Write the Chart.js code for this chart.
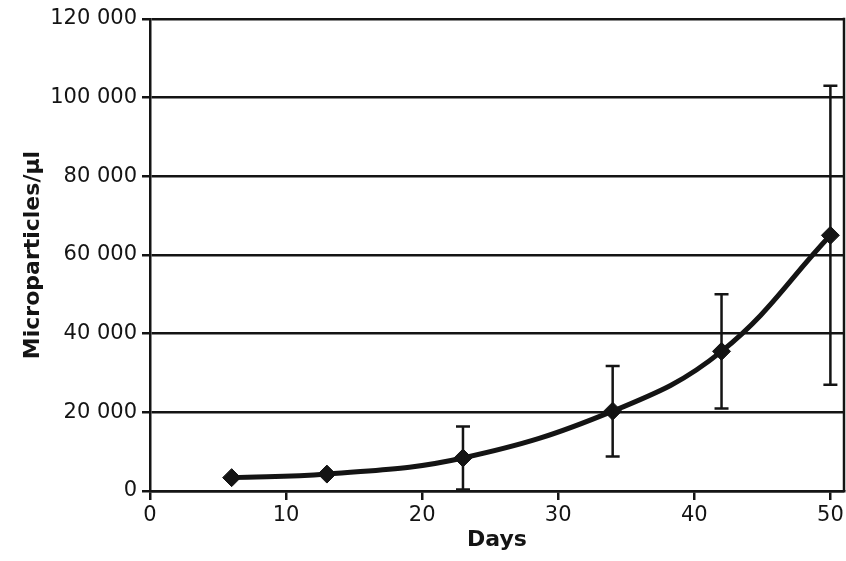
<!DOCTYPE html>
<html>
<head>
<meta charset="utf-8">
<script src="https://cdn.jsdelivr.net/npm/chart.js@4/dist/chart.umd.min.js"></script>
<style>
  html, body { margin: 0; padding: 0; background: #fff; overflow: hidden; }
  canvas { display: block; }
</style>
</head>
<body>
<canvas id="c" width="846" height="561"></canvas>
<script>
// Microparticle counts over storage time (mean ± SD)
const days = [6, 13, 23, 34, 42, 50];
const meanCount = [3400, 4300, 8400, 20300, 35500, 65000];
const sdCount = [0, 0, 8000, 11500, 14500, 38000];
const xTicks = [0, 10, 20, 30, 40, 50];
const yTicks = [0, 20000, 40000, 60000, 80000, 100000, 120000];

const INK = '#141414';

function spaced(v) {
  return String(v).replace(/\B(?=(\d{3})+(?!\d))/g, ' ');
}

// Vertical error bars with end caps, positioned via the chart scales
const errorBars = {
  id: 'errorBars',
  afterDatasetsDraw(chart) {
    const { ctx, scales: { x, y } } = chart;
    ctx.save();
    ctx.strokeStyle = INK;
    ctx.lineWidth = 2.5;
    ctx.lineCap = 'butt';
    days.forEach((d, i) => {
      const sd = sdCount[i];
      if (!sd) return;
      const px = x.getPixelForValue(d);
      const top = y.getPixelForValue(meanCount[i] + sd);
      const bot = y.getPixelForValue(Math.max(0, meanCount[i] - sd));
      const cap = 7;
      ctx.beginPath();
      ctx.moveTo(px, top); ctx.lineTo(px, bot);
      ctx.moveTo(px - cap, top); ctx.lineTo(px + cap, top);
      ctx.moveTo(px - cap, bot); ctx.lineTo(px + cap, bot);
      ctx.stroke();
    });
    ctx.restore();
  }
};

// Right-hand edge of the plot frame
const frame = {
  id: 'frame',
  beforeDatasetsDraw(chart) {
    const { ctx, chartArea: a } = chart;
    ctx.save();
    ctx.strokeStyle = INK;
    ctx.lineWidth = 2.5;
    ctx.beginPath();
    ctx.moveTo(a.right, a.top - 1.25);
    ctx.lineTo(a.right, a.bottom);
    ctx.stroke();
    ctx.restore();
  }
};

new Chart(document.getElementById('c'), {
  type: 'line',
  data: {
    datasets: [{
      data: days.map((d, i) => ({ x: d, y: meanCount[i] })),
      borderColor: INK,
      backgroundColor: INK,
      borderWidth: 5,
      tension: 0.4,
      pointStyle: 'rectRot',
      pointRadius: 9,
      pointBorderWidth: 1,
      pointBackgroundColor: INK,
      pointBorderColor: INK,
      fill: false
    }]
  },
  options: {
    responsive: false,
    animation: false,
    devicePixelRatio: 1,
    layout: { autoPadding: false, padding: { top: 19, right: 2, bottom: 0, left: 0 } },
    plugins: { legend: { display: false }, tooltip: { enabled: false } },
    scales: {
      x: {
        type: 'linear',
        min: 0,
        max: 51,
        afterBuildTicks: s => { s.ticks = xTicks.map(v => ({ value: v })); },
        afterFit: s => { s.height = 70; s.paddingRight = 0; s.paddingLeft = 0; },
        border: { display: true, color: INK, width: 2.5 },
        grid: { drawOnChartArea: false, drawTicks: true, tickLength: 9, color: INK, lineWidth: 2.5 },
        ticks: {
          color: INK,
          padding: 3,
          maxRotation: 0,
          font: { family: 'DejaVu Sans', size: 21 },
          callback: v => spaced(v)
        },
        title: {
          display: true,
          text: 'Days',
          color: INK,
          font: { family: 'DejaVu Sans', size: 22, weight: 'bold', lineHeight: 1.2 },
          padding: { top: 0, bottom: 8 }
        }
      },
      y: {
        type: 'linear',
        min: 0,
        max: 120000,
        afterBuildTicks: s => { s.ticks = yTicks.map(v => ({ value: v })); },
        afterFit: s => { s.width = 150; s.paddingTop = 0; s.paddingBottom = 0; },
        border: { display: true, color: INK, width: 2.5 },
        grid: { drawOnChartArea: true, drawTicks: true, tickLength: 8, color: INK, lineWidth: 2.5 },
        ticks: {
          color: INK,
          padding: 5,
          font: { family: 'DejaVu Sans', size: 21 },
          callback: v => spaced(v)
        },
        title: {
          display: true,
          text: 'Microparticles/\u00b5l',
          color: INK,
          font: { family: 'DejaVu Sans', size: 22, weight: 'bold', lineHeight: 1.2 },
          padding: { top: 20, bottom: 0 }
        }
      }
    }
  },
  plugins: [frame, errorBars]
});
</script>
</body>
</html>
